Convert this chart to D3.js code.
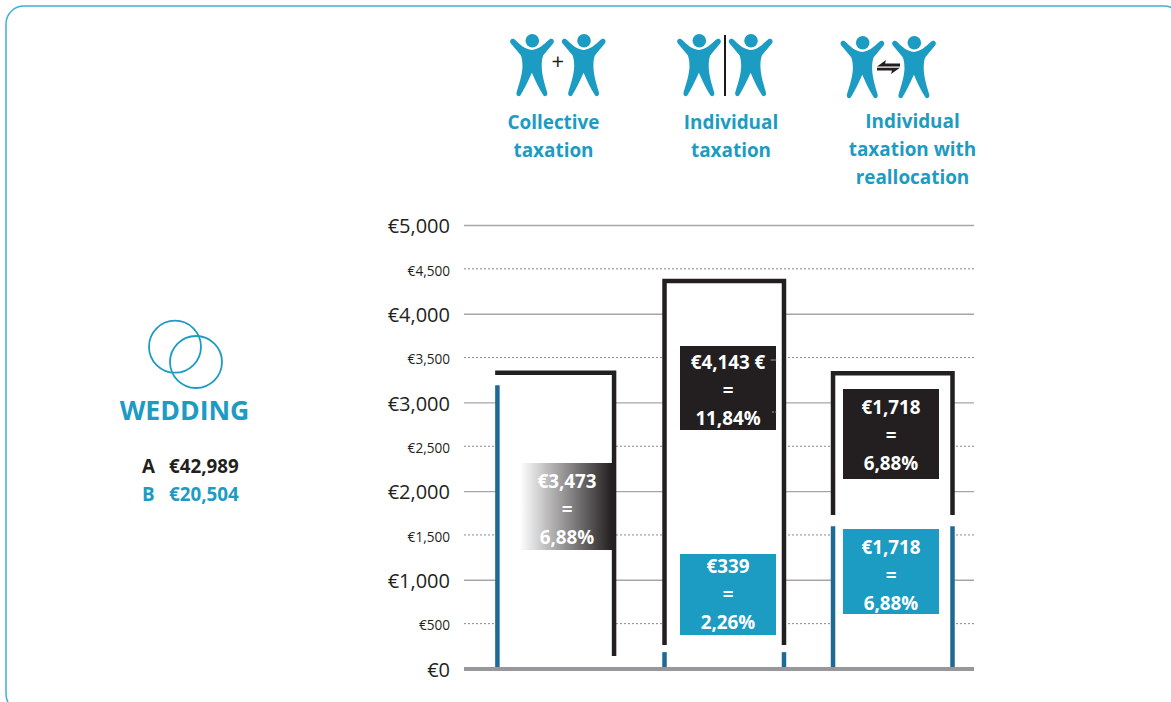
<!DOCTYPE html>
<html>
<head>
<meta charset="utf-8">
<script src="https://cdn.jsdelivr.net/npm/d3@7"></script>
<style>
    html, body { margin: 0; padding: 0; background: #fff; overflow: hidden; }
    text { font-family: "Open Sans", sans-serif; }
</style>
</head>
<body>
<div id="chart"></div>
<script>
// Values (euros)
const categories = ['Collective', 'Individual', 'Reallocation'];
const partnerATop = [3340, 4375, 3335];
const partnerABottom = [146, 270, 1735];
const partnerBTop = [3200, 190, 1610];
const yTicks = [0, 500, 1000, 1500, 2000, 2500, 3000, 3500, 4000, 4500, 5000];

const headings = [
    ['Collective', 'taxation'],
    ['Individual', 'taxation'],
    ['Individual', 'taxation with', 'reallocation']
];
const boxLinesA = [
    ['€3,473', '=', '6,88%'],
    ['€4,143 €', '=', '11,84%'],
    ['€1,718', '=', '6,88%']
];
const boxLinesB = [
    null,
    ['€339', '=', '2,26%'],
    ['€1,718', '=', '6,88%']
];
const incomeLabels = ['A', 'B'];
const incomeValues = ['€42,989', '€20,504'];

const BLUE = '#1c9bc3', DARK = '#231f20', STEEL = '#1f6a94', GREY = '#98989c';

const width = 1171, height = 702;
const svg = d3.select('#chart').append('svg')
    .attr('width', width).attr('height', height);

// Card outline, runs off the right and bottom of the page
svg.append('rect')
    .attr('x', 6).attr('y', 6)
    .attr('width', 1176).attr('height', 706)
    .attr('rx', 18)
    .attr('fill', 'none').attr('stroke', '#3fb0d2').attr('stroke-width', 1.5);

const y = d3.scaleLinear().domain([0, 5000]).range([669, 225.5]);
const x = d3.scaleBand().domain(categories).range([496, 952.5]).paddingInner(0.291);

// Axis and gridlines
const yAxis = d3.axisLeft(y)
    .tickValues(yTicks)
    .tickSize(-510)
    .tickPadding(14)
    .offset(0)
    .tickFormat(d => '€' + d3.format(',')(d));
const axis = svg.append('g')
    .attr('transform', 'translate(464,0)')
    .call(yAxis);
axis.select('.domain').remove();
axis.selectAll('.tick line')
    .attr('transform', d => d % 1000 ? 'translate(0,-1)' : null)
    .attr('stroke', d => d % 1000 ? '#8a8a8a' : '#a6a6a6')
    .attr('stroke-width', d => d % 1000 ? 1 : 1.4)
    .attr('stroke-dasharray', d => d % 1000 ? '2 2' : null);
axis.selectAll('.tick text')
    .attr('fill', DARK)
    .attr('dy', d => d % 1000 ? '0.42em' : '0.38em')
    .style('font-family', '"Open Sans", sans-serif')
    .style('font-size', d => d % 1000 ? '13.6px' : '20px');

// Heavy base line
svg.append('line')
    .attr('x1', 464).attr('x2', 974)
    .attr('y1', y(0)).attr('y2', y(0))
    .attr('stroke', GREY).attr('stroke-width', 4);

// White columns hide the gridlines behind them
svg.selectAll('rect.column')
    .data(categories)
    .join('rect')
    .classed('column', true)
    .attr('x', d => x(d))
    .attr('width', x.bandwidth())
    .attr('y', (d, i) => y(partnerATop[i]))
    .attr('height', (d, i) => y(0) - y(partnerATop[i]) - 2)
    .attr('fill', '#fff');

// Brackets: partner A on top (dark), partner B below (steel blue)
const line = d3.line();
const weight = 4.5;
const bottomY = y(0) - 2;
categories.forEach((c, i) => {
    // the first column is drawn a little narrower than the others
    let inset = i === 0 ? 1.4 : 0;
    let l = x(c) + inset, r = x(c) + x.bandwidth() - inset;
    let top = y(partnerATop[i]), low = y(partnerABottom[i]);
    let dark = i === 0
        ? [[l - 2.25, top], [r, top], [r, low]]
        : [[l, low], [l, top], [r, top], [r, low]];
    svg.append('path')
        .attr('d', line(dark))
        .attr('fill', 'none')
        .attr('stroke', DARK)
        .attr('stroke-width', weight)
        .attr('stroke-linejoin', 'miter');
    let sides = i === 0 ? [l] : [l, r];
    sides.forEach(sx => {
        svg.append('line')
            .attr('x1', sx).attr('x2', sx)
            .attr('y1', y(partnerBTop[i])).attr('y2', bottomY)
            .attr('stroke', STEEL).attr('stroke-width', weight);
    });
});

// Value boxes
const fade = svg.append('defs').append('linearGradient').attr('id', 'fade');
fade.append('stop').attr('offset', 0).attr('stop-color', '#fff');
fade.append('stop').attr('offset', 1).attr('stop-color', DARK);

function valueBox(bx, by, bw, bh, fill, lines, cx, firstBase) {
    svg.append('rect')
        .attr('x', bx).attr('y', by).attr('width', bw).attr('height', bh)
        .attr('fill', fill);
    svg.append('g').selectAll('text')
        .data(lines)
        .join('text')
        .attr('x', cx)
        .attr('y', (d, i) => firstBase + i * 28)
        .attr('text-anchor', 'middle')
        .attr('fill', '#fff')
        .attr('font-weight', 700)
        .attr('font-size', 18.8)
        .text(d => d);
}
valueBox(520, 463, 92, 87, 'url(#fade)', boxLinesA[0], 567, 487.5);
valueBox(680, 346, 96, 84, DARK, boxLinesA[1], 728, 368.5);
valueBox(843, 389, 96, 90, DARK, boxLinesA[2], 891, 413.5);
valueBox(680, 554, 96, 81, BLUE, boxLinesB[1], 728, 572.5);
valueBox(843, 529, 96, 85, BLUE, boxLinesB[2], 891, 553.5);

// Stray grid remnants on the dark box
svg.append('line').attr('x1', 770.5).attr('x2', 776.5).attr('y1', 360).attr('y2', 360)
    .attr('stroke', '#999').attr('stroke-width', 1);
svg.append('line').attr('x1', 772).attr('x2', 776.5).attr('y1', 412).attr('y2', 412)
    .attr('stroke', '#999').attr('stroke-width', 1).attr('stroke-dasharray', '2 1');

// Person pictogram, origin at the centre of the head
const personPath = 'M-20.8,-1.6 C-22.4,-0.6 -22.6,1.2 -21.6,2.6 L-11.5,14.5 C-10.4,17 -9.8,21 -9.8,26 ' +
    'C-10.4,36 -13.6,44 -15.8,52 C-16.4,55 -13.4,56.6 -11.8,54.6 C-8,48.5 -4,40 -0.4,32 ' +
    'C3,40 7,48.5 11,54.6 C12.6,56.6 15.6,55 15,52 C12.8,44 9.8,36 9.4,26 ' +
    'C9.4,21 9.8,17 11,14.5 L21,2.6 C22,1.2 21.8,-0.6 20.2,-1.6 C18.8,-2.4 17.6,-1.8 16.4,-0.6 ' +
    'C12,3.4 6,9.2 -0.4,9.2 C-7,9.2 -13,3.4 -17,-0.6 C-18.2,-1.8 -19.4,-2.4 -20.8,-1.6 Z';

function person(px, py) {
    let g = svg.append('g').attr('transform', `translate(${px},${py})`).attr('fill', BLUE);
    g.append('circle').attr('r', 6.8);
    g.append('path').attr('d', personPath);
}
person(532.3, 40.7); person(584, 40.7);
person(699.3, 40.7); person(751, 40.7);
person(862.7, 42.7); person(914.3, 42.7);

// Symbols between the people
svg.append('text').attr('x', 557.7).attr('y', 68.6)
    .attr('text-anchor', 'middle').attr('font-size', 22).attr('fill', DARK).text('+');
svg.append('line').attr('x1', 725).attr('x2', 725).attr('y1', 35).attr('y2', 96)
    .attr('stroke', '#000').attr('stroke-width', 1.8);
svg.append('path')
    .attr('d', 'M877,66.5 L886,60 L885,63.6 H900 V66.5 Z M900,67.8 L891,74 L892,70.6 H877 V67.8 Z')
    .attr('fill', DARK);

// Headings
const headingX = [553.5, 731, 912.5];
const headingBase = [128.5, 128.5, 127.5];
headings.forEach((lines, i) => {
    svg.append('g').selectAll('text')
        .data(lines)
        .join('text')
        .attr('x', headingX[i])
        .attr('y', (d, j) => headingBase[i] + j * 28)
        .attr('text-anchor', 'middle')
        .attr('fill', BLUE)
        .attr('font-weight', 700)
        .attr('font-size', 18.9)
        .text(d => d);
});

// Left panel: rings, title and incomes
svg.append('g').selectAll('circle')
    .data([[175, 346.7], [196, 362]])
    .join('circle')
    .attr('cx', d => d[0]).attr('cy', d => d[1])
    .attr('r', 26)
    .attr('fill', 'none').attr('stroke', BLUE).attr('stroke-width', 1.8);
svg.append('text')
    .attr('x', 184.5).attr('y', 419.5)
    .attr('text-anchor', 'middle')
    .attr('fill', BLUE).attr('font-weight', 700).attr('font-size', 26.6)
    .text('WEDDING');
incomeLabels.forEach((d, i) => {
    let row = svg.append('g')
        .attr('fill', i ? BLUE : DARK)
        .attr('font-weight', 700)
        .attr('font-size', 18.8);
    row.append('text').attr('x', 142).attr('y', 472.5 + i * 28).text(d);
    row.append('text').attr('x', 169).attr('y', 472.5 + i * 28).text(incomeValues[i]);
});
</script>
</body>
</html>
